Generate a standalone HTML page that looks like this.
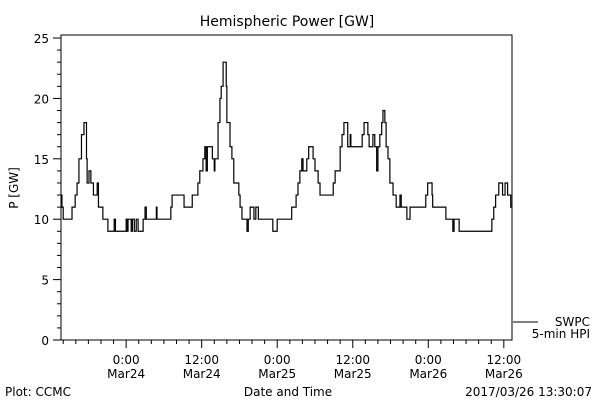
<!DOCTYPE html>
<html><head><meta charset="utf-8"><style>
body{margin:0;background:#fff}
svg{display:block;font-family:"DejaVu Sans","Liberation Sans",sans-serif}
text{fill:#000}
</style></head><body>
<svg id="c" width="600" height="400" viewBox="0 0 600 400">
<rect width="600" height="400" fill="#fff"/>
<text x="287" y="26" font-size="14" text-anchor="middle">Hemispheric Power [GW]</text>
<text transform="translate(18,188) rotate(-90)" font-size="12" text-anchor="middle">P [GW]</text>
<text x="288" y="396" font-size="12" text-anchor="middle">Date and Time</text>
<text x="5" y="396" font-size="12">Plot: CCMC</text>
<text x="592" y="396" font-size="12" text-anchor="end">2017/03/26 13:30:07</text>
<line x1="513" y1="322" x2="538" y2="322" stroke="#000"/>
<text x="590" y="326" font-size="12" text-anchor="end">SWPC</text>
<text x="590" y="338" font-size="12" text-anchor="end">5-min HPI</text>
<g id="axes"></g>
<path id="line" fill="none" stroke="#000" stroke-width="1.2"/>
</svg>
<script>
// hours since Mar24 00:00
const times = [-10.3,-10.2,-10.0,-8.6,-8.1,-7.8,-7.5,-7.1,-6.7,-6.3,-6.2,-5.9,-5.6,-5.2,-4.6,-4.4,-3.7,-2.9,-1.9,-1.7,0,0.2,0.3,0.8,1.0,1.3,1.6,1.9,2.7,3.0,3.2,4.8,4.9,7.1,7.3,9.2,10.5,11.4,11.7,12.2,12.5,12.7,12.9,13.7,14.0,14.1,14.6,14.9,15.1,15.4,15.9,16.0,16.5,16.8,17.1,17.9,18.1,18.4,19.2,19.4,19.7,20.3,20.6,21.0,23.3,24.0,26.3,27.0,27.3,27.6,27.9,28.1,28.7,29.0,29.7,30.0,30.5,30.8,32.9,33.2,34.0,34.3,34.6,35.2,35.6,35.7,37.5,37.8,38.4,38.6,39.2,39.5,39.8,40.0,40.3,40.6,40.8,41.1,41.3,41.6,41.9,42.4,42.9,43.5,43.7,44.6,45.1,47.6,47.9,48.6,48.7,50.8,51.9,52.1,52.9,58.1,58.4,58.7,59.2,59.8,60.2,60.6,61.1];
const power = [12,11,10,11,12,13,15,17,18,15,13,14,13,12,13,11,10,9,10,9,10,9,10,9,10,9,10,9,10,11,10,11,10,11,12,11,12,13,14,15,16,14,16,15,14,15,18,20,21,23,21,18,16,15,13,12,11,10,9,10,11,10,11,10,9,10,11,12,13,14,15,14,15,16,15,14,13,12,13,14,16,17,18,16,17,16,17,18,17,16,17,16,14,16,17,18,19,18,16,15,13,12,11,12,11,10,11,12,13,12,11,10,9,10,9,10,11,12,13,12,13,12,11];
const yTicks = [0,5,10,15,20,25];
const xTickHours = [0,12,24,36,48,60];
const xTickTimes = ["0:00","12:00","0:00","12:00","0:00","12:00"];
const xTickDates = ["Mar24","Mar24","Mar25","Mar25","Mar26","Mar26"];
const tMin=-10.35, tMax=61.3, vMin=0, vMax=25.25;
const L=61,R=512,T=35,B=340;
const xs=t=>L+(t-tMin)/(tMax-tMin)*(R-L);
const ys=v=>B-(v-vMin)/(vMax-vMin)*(B-T);
const NS="http://www.w3.org/2000/svg";
const g=document.getElementById('axes');
function mk(tag,attrs){const e=document.createElementNS(NS,tag);for(const k in attrs)e.setAttribute(k,attrs[k]);g.appendChild(e);return e;}
const frame=mk('rect',{x:L,y:T,width:R-L,height:B-T,fill:'none',stroke:'#000','stroke-width':1});


for(let v=0;v<=25;v++){
  const major=v%5===0;
  const tk=mk('line',{x1:L-(major?8:4),x2:L,y1:ys(v),y2:ys(v),stroke:'#000'});
  
  
}
yTicks.forEach(v=>{
  const t=mk('text',{x:L-12,y:ys(v)+5,'font-size':12,'text-anchor':'end'});
  t.textContent=v;
  
  
});
for(let h=-10;h<=60;h+=2){
  const major=h%12===0;
  const tk=mk('line',{x1:xs(h),x2:xs(h),y1:B,y2:B+(major?8:4),stroke:'#000'});
  
  
}
xTickHours.forEach((h,i)=>{
  const a=mk('text',{x:xs(h),y:364,'font-size':12,'text-anchor':'middle'});
  a.textContent=xTickTimes[i];
  
  
  const b=mk('text',{x:xs(h),y:378,'font-size':12,'text-anchor':'middle'});
  b.textContent=xTickDates[i];
  
  
});
let d='M'+xs(times[0])+','+ys(power[0]);
for(let i=1;i<times.length;i++){
  d+=' H'+xs(times[i])+' V'+ys(power[i]);
}
d+=' H'+xs(tMax);
document.getElementById('line').setAttribute('d',d);
</script>
</body></html>
